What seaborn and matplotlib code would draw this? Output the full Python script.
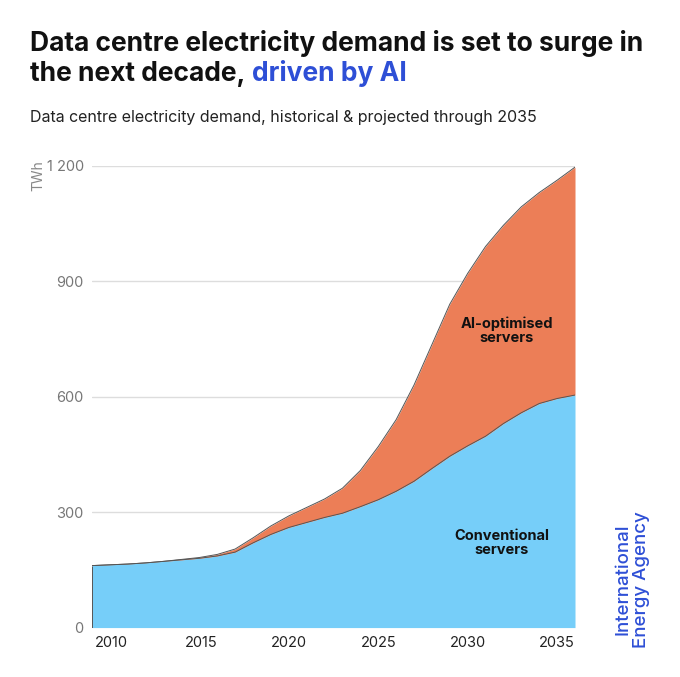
import numpy as np
import pandas as pd
import seaborn as sns
import matplotlib.pyplot as plt

# values (TWh)
years = list(range(2008, 2036))
conventional = [161, 163, 165, 168, 172, 176, 180, 186, 196, 220, 242, 260,
                273, 286, 297, 314, 332, 354, 380, 413, 445, 472, 497, 530,
                558, 582, 595, 604]
total = [161, 163, 165, 168, 172, 177, 182, 190, 204, 233, 264, 290,
         312, 334, 362, 408, 470, 540, 630, 735, 840, 920, 990, 1045,
         1093, 1130, 1162, 1196]
ai_optimised = [t - c for t, c in zip(total, conventional)]
year_ticks = [2010, 2015, 2020, 2025, 2030, 2035]
y_ticks = [0, 300, 600, 900, 1200]
y_labels = ["0", "300", "600", "900", "1 200"]

df = pd.DataFrame({"year": years, "Conventional servers": conventional,
                   "AI-optimised servers": ai_optimised})
df["top"] = df["Conventional servers"] + df["AI-optimised servers"]

sns.set_style("white")
plt.rcParams["font.family"] = ["Inter", "DejaVu Sans"]

blue = "#76CEF9"
orange = "#EC7E57"
accent = "#2E4FD6"

fig = plt.figure(figsize=(6.8, 6.77), dpi=100)
ax = fig.add_axes([0.1353, 0.073, 0.7103, 0.6824])

ax.fill_between(df["year"], 0, df["Conventional servers"], color=blue, lw=0)
ax.fill_between(df["year"], df["Conventional servers"], df["top"],
                color=orange, lw=0)
sns.lineplot(data=df, x="year", y="Conventional servers", ax=ax,
             color="#555555", lw=0.7)
sns.lineplot(data=df, x="year", y="top", ax=ax, color="#555555", lw=0.7)
ax.vlines([years[0], years[-1]], 0, [total[0], total[-1]],
          color="#555555", lw=0.7)

ax.set_xlim(years[0], years[-1])
ax.set_ylim(0, 1200)
ax.set_yticks(y_ticks)
ax.set_yticklabels(y_labels, color="#777777", fontsize=10.5)
ax.set_xticks(year_ticks)
ax.set_xticklabels([str(y) for y in year_ticks], color="#222222",
                   fontsize=10.5, ha="right")
ax.tick_params(axis="both", length=0, pad=6)
ax.grid(axis="y", color="#DDDDDD", lw=1)
ax.set_axisbelow(True)
for s in ax.spines.values():
    s.set_visible(False)
ax.set_xlabel("")
ax.set_ylabel("")

ax.text(2031.2, 770, "AI-optimised\nservers", ha="center", va="center",
        fontsize=10.5, fontweight="bold", color="#111111", linespacing=1.0)
ax.text(2030.9, 220, "Conventional\nservers", ha="center", va="center",
        fontsize=10.5, fontweight="bold", color="#111111", linespacing=1.0)

fig.text(0.056, 0.74, "TWh", rotation=90, color="#888888", fontsize=10,
         ha="center", va="center")

# titles
fig.text(0.044, 0.936, "Data centre electricity demand is set to surge in",
         fontsize=19, fontweight="bold", color="#111111", va="center")
t2 = fig.text(0.044, 0.891, "the next decade,", fontsize=19,
              fontweight="bold", color="#111111", va="center")
ax.annotate("driven by AI", xy=(1, 0), xycoords=t2, xytext=(5, 0),
            textcoords="offset points", fontsize=19, fontweight="bold",
            color=accent, va="bottom", annotation_clip=False)
fig.text(0.044, 0.827,
         "Data centre electricity demand, historical & projected through 2035",
         fontsize=11.5, color="#222222", va="center")

fig.text(0.93, 0.043, "International\nEnergy Agency", rotation=90,
         fontsize=13.5, fontweight="medium", color=accent, ha="center",
         va="bottom", linespacing=1.15)

fig.savefig("out.png", dpi=100)
